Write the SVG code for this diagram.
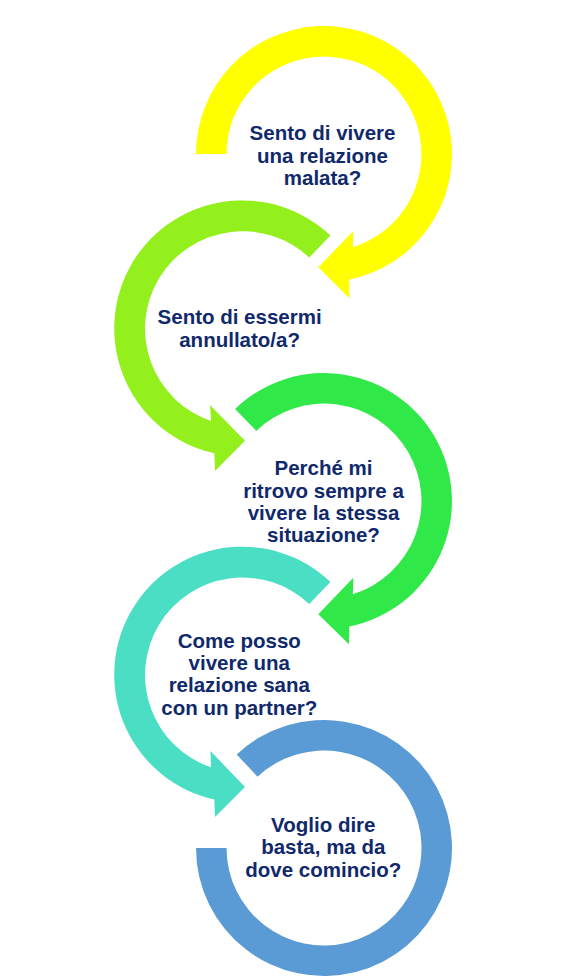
<svg xmlns="http://www.w3.org/2000/svg" width="563" height="980" viewBox="0 0 563 980">
<style>
.lbl{font-family:"Liberation Sans",Arial,sans-serif;font-weight:bold;font-size:20.5px;fill:#10296B;text-anchor:middle}
</style>
<rect width="563" height="980" fill="#FFFFFF"/>
<g id="node1">
<path fill="#FFFF00" d="M196,154 A128,128 0 1 1 349.3,279.5 L349.3,298.3 L318.3,267.3 L353.3,231 L352.9,247.2 A97.5,97.5 0 1 0 226.5,154 Z"/>
<text class="lbl"><tspan x="322.5" y="140">Sento di vivere</tspan><tspan x="322.5" y="162.5">una relazione</tspan><tspan x="322.5" y="185">malata?</tspan></text>
</g>
<g id="node2">
<path fill="#94F01C" d="M330.4,235.6 A128,128 0 1 0 214.3,453.3 L215,471 L245,440.7 L210,405 L211,421 A97.5,97.5 0 1 1 309.2,257.6 Z"/>
<text class="lbl"><tspan x="239.6" y="324.3">Sento di essermi</tspan><tspan x="239.6" y="346.7">annullato/a?</tspan></text>
</g>
<g id="node3">
<path fill="#30E848" d="M235.1,408.9 A128,128 0 1 1 349.3,626.5 L349,644.3 L318.3,614.3 L353.3,577.7 L352.9,594.2 A97.5,97.5 0 1 0 256.3,430.9 Z"/>
<text class="lbl"><tspan x="323.5" y="475">Perché mi</tspan><tspan x="323.5" y="497.5">ritrovo sempre a</tspan><tspan x="323.5" y="519.5">vivere la stessa</tspan><tspan x="323.5" y="541.8">situazione?</tspan></text>
</g>
<g id="node4">
<path fill="#4ADEC4" d="M330.4,581.9 A128,128 0 1 0 214.3,799.6 L215,817 L245,787 L210.5,751 L211,767.3 A97.5,97.5 0 1 1 309.2,603.9 Z"/>
<text class="lbl"><tspan x="239.3" y="647.7">Come posso</tspan><tspan x="239.3" y="670">vivere una</tspan><tspan x="239.3" y="692">relazione sana</tspan><tspan x="239.3" y="714.5">con un partner?</tspan></text>
</g>
<g id="node5">
<path fill="#5B9BD5" d="M196,848 A128,128 0 1 0 236.7,754.4 L257.5,776.7 A97.5,97.5 0 1 1 226.5,848 Z"/>
<text class="lbl"><tspan x="323.3" y="831.7">Voglio dire</tspan><tspan x="323.3" y="854.3">basta, ma da</tspan><tspan x="323.3" y="876.7">dove comincio?</tspan></text>
</g>
<g id="connectors"/>
</svg>
